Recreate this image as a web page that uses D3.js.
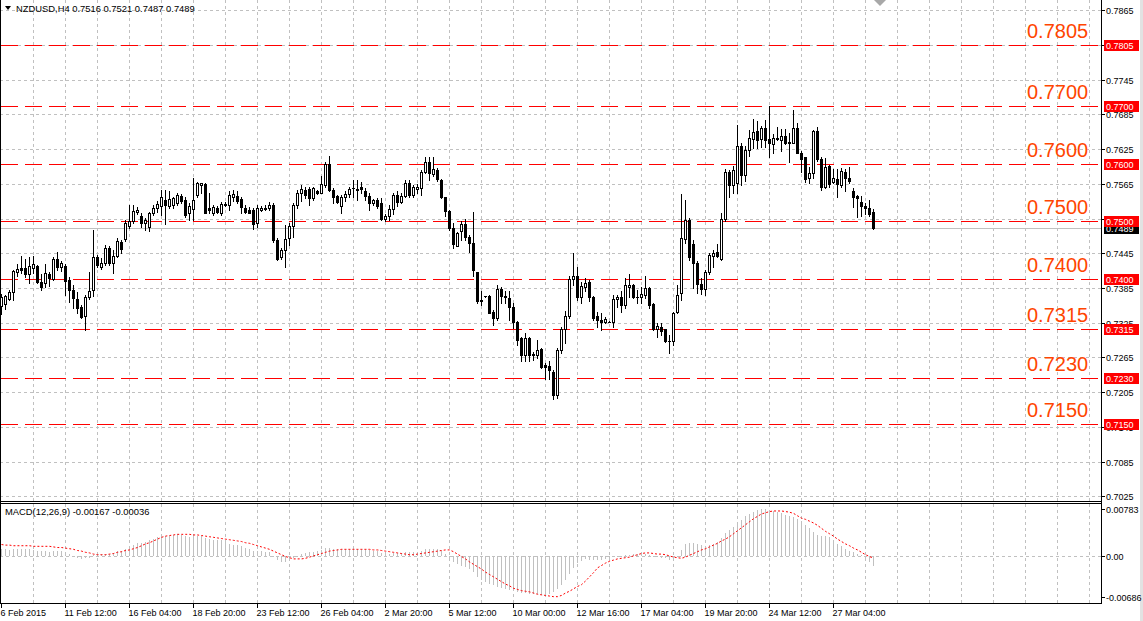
<!DOCTYPE html>
<html><head><meta charset="utf-8">
<script src="https://cdn.jsdelivr.net/npm/d3@7"></script>
<style>
body{margin:0;background:#fff}
svg{display:block}
text{font-family:"Liberation Sans",Arial,sans-serif}
</style>
</head><body>
<svg id="c" width="1143" height="621"></svg>
<script>
// ---------------- DATA ----------------
const symbolHeader = "NZDUSD,H4 0.7516 0.7521 0.7487 0.7489";
const macdHeader = "MACD(12,26,9) -0.00167 -0.00036";
const lastPrice = 0.7489;

const opens = [
0.7354,0.7358,0.7366,0.7378,0.7413,0.7419,0.7420,0.7409,0.7420,0.7423,
0.7395,0.7394,0.7409,0.7401,0.7435,0.7421,0.7423,0.7399,0.7382,0.7366,
0.7352,0.7337,0.7370,0.7382,0.7439,0.7422,0.7428,0.7454,0.7428,0.7440,
0.7465,0.7470,0.7492,0.7501,0.7517,0.7510,0.7497,0.7490,0.7515,0.7523,
0.7526,0.7537,0.7526,0.7528,0.7532,0.7544,0.7537,0.7514,0.7521,0.7546,
0.7563,0.7564,0.7523,0.7514,0.7523,0.7515,0.7529,0.7528,0.7543,0.7544,
0.7539,0.7523,0.7520,0.7520,0.7497,0.7520,0.7523,0.7523,0.7528,0.7468,
0.7438,0.7450,0.7471,0.7492,0.7528,0.7550,0.7554,0.7556,0.7540,0.7553,
0.7550,0.7563,0.7599,0.7554,0.7544,0.7526,0.7542,0.7548,0.7557,0.7556,
0.7560,0.7553,0.7544,0.7532,0.7537,0.7532,0.7504,0.7510,0.7521,0.7546,
0.7534,0.7544,0.7567,0.7546,0.7556,0.7558,0.7586,0.7602,0.7582,0.7589,
0.7572,0.7542,0.7518,0.7488,0.7458,0.7484,0.7496,0.7474,0.7462,0.7413,
0.7364,0.7371,0.7371,0.7344,0.7333,0.7383,0.7372,0.7367,0.7353,0.7327,
0.7298,0.7270,0.7298,0.7271,0.7270,0.7279,0.7252,0.7250,0.7240,0.7200,
0.7278,0.7314,0.7336,0.7400,0.7405,0.7369,0.7387,0.7396,0.7369,0.7337,
0.7330,0.7327,0.7327,0.7327,0.7366,0.7370,0.7356,0.7387,0.7390,0.7370,
0.7370,0.7373,0.7385,0.7357,0.7314,0.7318,0.7314,0.7294,0.7294,0.7344,
0.7376,0.7470,0.7503,0.7461,0.7429,0.7392,0.7383,0.7413,0.7441,0.7448,
0.7435,0.7505,0.7586,0.7563,0.7567,0.7630,0.7580,0.7624,0.7642,0.7657,
0.7642,0.7661,0.7642,0.7634,0.7643,0.7640,0.7648,0.7635,0.7636,0.7661,
0.7619,0.7611,0.7575,0.7583,0.7657,0.7608,0.7560,0.7596,0.7569,0.7573,
0.7563,0.7586,0.7576,0.7553,0.7544,0.7534,0.7527,0.7523,0.7516];

const highs = [
0.7375,0.7373,0.7381,0.7416,0.7427,0.7440,0.7435,0.7439,0.7440,0.7425,
0.7409,0.7427,0.7413,0.7439,0.7447,0.7431,0.7427,0.7404,0.7390,0.7378,
0.7356,0.7373,0.7413,0.7485,0.7442,0.7437,0.7459,0.7458,0.7451,0.7471,
0.7468,0.7503,0.7528,0.7528,0.7525,0.7515,0.7506,0.7517,0.7528,0.7535,
0.7554,0.7554,0.7552,0.7543,0.7550,0.7547,0.7543,0.7532,0.7575,0.7569,
0.7567,0.7566,0.7549,0.7528,0.7527,0.7534,0.7534,0.7552,0.7554,0.7552,
0.7543,0.7528,0.7525,0.7523,0.7528,0.7526,0.7528,0.7534,0.7532,0.7471,
0.7454,0.7494,0.7497,0.7532,0.7554,0.7563,0.7560,0.7560,0.7560,0.7554,
0.7578,0.7602,0.7613,0.7558,0.7546,0.7546,0.7552,0.7560,0.7572,0.7571,
0.7569,0.7558,0.7549,0.7539,0.7540,0.7540,0.7513,0.7528,0.7549,0.7552,
0.7549,0.7572,0.7571,0.7563,0.7565,0.7589,0.7611,0.7611,0.7611,0.7592,
0.7573,0.7543,0.7520,0.7497,0.7482,0.7500,0.7504,0.7477,0.7517,0.7413,
0.7379,0.7372,0.7373,0.7347,0.7390,0.7387,0.7379,0.7379,0.7359,0.7328,
0.7301,0.7307,0.7301,0.7274,0.7296,0.7281,0.7255,0.7258,0.7243,0.7281,
0.7318,0.7345,0.7405,0.7445,0.7422,0.7396,0.7402,0.7399,0.7371,0.7344,
0.7342,0.7335,0.7328,0.7373,0.7373,0.7379,0.7402,0.7410,0.7392,0.7382,
0.7387,0.7405,0.7387,0.7359,0.7324,0.7324,0.7315,0.7304,0.7344,0.7390,
0.7548,0.7537,0.7506,0.7468,0.7431,0.7402,0.7416,0.7445,0.7451,0.7461,
0.7514,0.7590,0.7589,0.7596,0.7667,0.7636,0.7630,0.7658,0.7677,0.7673,
0.7665,0.7675,0.7700,0.7652,0.7663,0.7659,0.7659,0.7653,0.7693,0.7670,
0.7621,0.7612,0.7595,0.7658,0.7663,0.7612,0.7609,0.7598,0.7590,0.7590,
0.7592,0.7590,0.7595,0.7557,0.7546,0.7544,0.7532,0.7537,0.7521];

const lows = [
0.7340,0.7349,0.7364,0.7364,0.7406,0.7411,0.7404,0.7394,0.7411,0.7394,
0.7382,0.7387,0.7389,0.7399,0.7416,0.7414,0.7373,0.7361,0.7350,0.7342,
0.7333,0.7313,0.7366,0.7371,0.7421,0.7417,0.7425,0.7425,0.7411,0.7439,
0.7446,0.7466,0.7489,0.7497,0.7513,0.7491,0.7485,0.7483,0.7511,0.7517,
0.7511,0.7496,0.7523,0.7523,0.7528,0.7532,0.7508,0.7503,0.7503,0.7543,
0.7549,0.7514,0.7514,0.7511,0.7514,0.7511,0.7526,0.7520,0.7535,0.7532,
0.7514,0.7514,0.7514,0.7487,0.7491,0.7518,0.7520,0.7520,0.7465,0.7433,
0.7436,0.7422,0.7459,0.7474,0.7523,0.7535,0.7540,0.7528,0.7537,0.7548,
0.7549,0.7560,0.7552,0.7532,0.7532,0.7514,0.7535,0.7543,0.7543,0.7537,
0.7549,0.7537,0.7520,0.7528,0.7523,0.7503,0.7501,0.7503,0.7513,0.7527,
0.7532,0.7542,0.7543,0.7542,0.7549,0.7546,0.7584,0.7572,0.7579,0.7570,
0.7540,0.7510,0.7485,0.7454,0.7457,0.7468,0.7468,0.7448,0.7406,0.7359,
0.7356,0.7370,0.7341,0.7321,0.7330,0.7359,0.7359,0.7330,0.7316,0.7287,
0.7258,0.7258,0.7258,0.7261,0.7264,0.7247,0.7227,0.7227,0.7193,0.7195,
0.7273,0.7290,0.7333,0.7390,0.7364,0.7359,0.7379,0.7362,0.7330,0.7318,
0.7313,0.7324,0.7326,0.7317,0.7352,0.7344,0.7350,0.7370,0.7367,0.7359,
0.7359,0.7367,0.7350,0.7313,0.7301,0.7304,0.7292,0.7273,0.7287,0.7342,
0.7364,0.7462,0.7433,0.7385,0.7376,0.7375,0.7373,0.7409,0.7422,0.7439,
0.7433,0.7501,0.7542,0.7549,0.7549,0.7563,0.7570,0.7614,0.7627,0.7627,
0.7628,0.7629,0.7612,0.7618,0.7641,0.7621,0.7634,0.7602,0.7635,0.7618,
0.7586,0.7569,0.7566,0.7575,0.7605,0.7554,0.7558,0.7560,0.7567,0.7542,
0.7560,0.7553,0.7567,0.7525,0.7508,0.7510,0.7513,0.7510,0.7487];

const closes = [
0.7370,0.7371,0.7378,0.7414,0.7418,0.7416,0.7410,0.7423,0.7427,0.7395,
0.7387,0.7411,0.7402,0.7436,0.7422,0.7428,0.7397,0.7382,0.7368,0.7350,
0.7335,0.7370,0.7380,0.7439,0.7424,0.7428,0.7454,0.7428,0.7440,0.7466,
0.7452,0.7497,0.7501,0.7518,0.7519,0.7498,0.7503,0.7515,0.7523,0.7530,
0.7543,0.7528,0.7539,0.7540,0.7546,0.7535,0.7511,0.7526,0.7537,0.7566,
0.7566,0.7515,0.7520,0.7525,0.7517,0.7530,0.7530,0.7545,0.7548,0.7536,
0.7525,0.7517,0.7515,0.7496,0.7523,0.7523,0.7521,0.7528,0.7468,0.7436,
0.7451,0.7469,0.7492,0.7528,0.7550,0.7556,0.7546,0.7540,0.7557,0.7549,
0.7565,0.7599,0.7554,0.7542,0.7533,0.7542,0.7548,0.7556,0.7558,0.7555,
0.7556,0.7544,0.7532,0.7537,0.7526,0.7504,0.7510,0.7521,0.7546,0.7534,
0.7544,0.7567,0.7546,0.7560,0.7560,0.7586,0.7602,0.7584,0.7590,0.7573,
0.7542,0.7518,0.7488,0.7461,0.7480,0.7496,0.7473,0.7462,0.7416,0.7363,
0.7363,0.7371,0.7342,0.7333,0.7383,0.7371,0.7369,0.7353,0.7327,0.7295,
0.7270,0.7298,0.7269,0.7270,0.7277,0.7248,0.7248,0.7243,0.7200,0.7278,
0.7315,0.7336,0.7400,0.7405,0.7370,0.7389,0.7394,0.7369,0.7333,0.7329,
0.7327,0.7332,0.7327,0.7366,0.7370,0.7356,0.7390,0.7390,0.7370,0.7370,
0.7375,0.7385,0.7356,0.7314,0.7319,0.7311,0.7294,0.7293,0.7341,0.7373,
0.7471,0.7503,0.7439,0.7429,0.7392,0.7383,0.7413,0.7442,0.7445,0.7441,
0.7505,0.7586,0.7563,0.7589,0.7630,0.7580,0.7624,0.7644,0.7655,0.7640,
0.7661,0.7640,0.7635,0.7644,0.7644,0.7648,0.7636,0.7638,0.7661,0.7619,
0.7608,0.7573,0.7583,0.7657,0.7608,0.7560,0.7595,0.7565,0.7575,0.7565,
0.7588,0.7576,0.7570,0.7542,0.7540,0.7527,0.7523,0.7513,0.7489];

const macdMain = [
0.0011,0.0011,0.0010,0.0011,0.0012,0.0012,0.0011,0.0011,0.0010,0.0009,
0.0008,0.0008,0.0007,0.0008,0.0008,0.0008,0.0006,0.0003,0.0000,-0.0003,
-0.0005,-0.0004,-0.0003,0.0001,0.0003,0.0003,0.0004,0.0004,0.0005,0.0008,
0.0008,0.0012,0.0015,0.0018,0.0021,0.0022,0.0024,0.0027,0.0029,0.0031,
0.0034,0.0033,0.0034,0.0035,0.0036,0.0035,0.0033,0.0032,0.0033,0.0034,
0.0034,0.0030,0.0028,0.0027,0.0026,0.0026,0.0026,0.0020,0.0019,0.0018,
0.0016,0.0014,0.0012,0.0009,0.0009,0.0008,0.0007,0.0007,0.0000,-0.0007,
-0.0010,-0.0010,-0.0008,-0.0004,0.0000,0.0003,0.0005,0.0006,0.0007,0.0008,
0.0010,0.0014,0.0013,0.0012,0.0011,0.0011,0.0011,0.0012,0.0012,0.0012,
0.0012,0.0011,0.0010,0.0009,0.0008,0.0005,0.0004,0.0004,0.0005,0.0005,
0.0005,0.0007,0.0006,0.0007,0.0007,0.0009,0.0011,0.0011,0.0012,0.0011,
0.0008,0.0004,-0.0004,-0.0010,-0.0014,-0.0016,-0.0019,-0.0022,-0.0027,-0.0035,
-0.0040,-0.0043,-0.0046,-0.0049,-0.0051,-0.0053,-0.0055,-0.0057,-0.0059,-0.0060,
-0.0062,-0.0062,-0.0063,-0.0063,-0.0064,-0.0065,-0.0065,-0.0064,-0.0060,-0.0055,
-0.0048,-0.0040,-0.0030,-0.0020,-0.0012,-0.0008,-0.0005,-0.0006,-0.0006,-0.0006,
-0.0006,-0.0005,-0.0004,-0.0002,-0.0001,0.0000,0.0002,0.0002,0.0003,0.0004,
0.0005,0.0004,0.0002,-0.0001,-0.0002,-0.0003,-0.0004,-0.0006,-0.0004,0.0000,
0.0010,0.0020,0.0022,0.0022,0.0020,0.0018,0.0017,0.0018,0.0020,0.0024,
0.0030,0.0038,0.0043,0.0048,0.0055,0.0060,0.0066,0.0070,0.0074,0.0076,
0.0078,0.0078,0.0077,0.0075,0.0073,0.0072,0.0069,0.0066,0.0065,0.0062,
0.0058,0.0052,0.0047,0.0040,0.0035,0.0034,0.0033,0.0031,0.0026,0.0020,
0.0016,0.0012,0.0009,0.0006,0.0004,0.0001,-0.0004,-0.0010,-0.0017];

const macdSignal = [
0.0019,0.0018,0.0018,0.0017,0.0017,0.0017,0.0017,0.0017,0.0016,0.0016,
0.0016,0.0016,0.0016,0.0015,0.0014,0.0014,0.0013,0.0012,0.0011,0.0009,
0.0008,0.0006,0.0005,0.0003,0.0002,0.0002,0.0002,0.0003,0.0004,0.0006,
0.0007,0.0009,0.0010,0.0012,0.0014,0.0017,0.0020,0.0022,0.0025,0.0028,
0.0031,0.0033,0.0034,0.0035,0.0036,0.0036,0.0036,0.0036,0.0035,0.0035,
0.0034,0.0033,0.0032,0.0031,0.0030,0.0029,0.0028,0.0027,0.0026,0.0025,
0.0024,0.0022,0.0021,0.0019,0.0017,0.0015,0.0013,0.0011,0.0008,0.0005,
0.0002,-0.0001,-0.0003,-0.0005,-0.0005,-0.0005,-0.0004,-0.0002,0.0000,0.0002,
0.0004,0.0006,0.0008,0.0009,0.0010,0.0011,0.0011,0.0011,0.0011,0.0011,
0.0011,0.0011,0.0011,0.0010,0.0010,0.0009,0.0008,0.0007,0.0006,0.0005,
0.0004,0.0003,0.0002,0.0002,0.0003,0.0004,0.0005,0.0006,0.0007,0.0008,
0.0009,0.0010,0.0010,0.0007,0.0003,-0.0001,-0.0005,-0.0010,-0.0014,-0.0018,
-0.0022,-0.0027,-0.0031,-0.0035,-0.0039,-0.0043,-0.0047,-0.0050,-0.0054,-0.0056,
-0.0058,-0.0059,-0.0060,-0.0062,-0.0064,-0.0065,-0.0066,-0.0067,-0.0068,-0.0068,
-0.0066,-0.0062,-0.0059,-0.0055,-0.0051,-0.0048,-0.0042,-0.0035,-0.0028,-0.0020,
-0.0016,-0.0012,-0.0009,-0.0007,-0.0005,-0.0004,-0.0003,-0.0002,0.0000,0.0002,
0.0004,0.0005,0.0005,0.0004,0.0003,0.0003,0.0002,0.0000,-0.0002,-0.0003,
-0.0004,-0.0002,0.0001,0.0004,0.0007,0.0010,0.0012,0.0015,0.0018,0.0021,
0.0025,0.0028,0.0032,0.0037,0.0042,0.0047,0.0052,0.0057,0.0062,0.0066,
0.0070,0.0072,0.0074,0.0075,0.0075,0.0075,0.0074,0.0073,0.0071,0.0067,
0.0063,0.0061,0.0058,0.0055,0.0051,0.0046,0.0041,0.0037,0.0033,0.0028,
0.0024,0.0020,0.0017,0.0013,0.0010,0.0006,0.0002,-0.0001,-0.0004];

const timeLabelIndex = [0,16,32,48,64,80,96,112,128,144,160,176,192,208];
const timeLabels = ["6 Feb 2015","11 Feb 12:00","16 Feb 04:00","18 Feb 20:00","23 Feb 12:00",
  "26 Feb 04:00","2 Mar 20:00","5 Mar 12:00","10 Mar 00:00","12 Mar 16:00","17 Mar 04:00",
  "19 Mar 20:00","24 Mar 12:00","27 Mar 04:00"];

const priceTicks = [0.7865,0.7805,0.7745,0.7685,0.7625,0.7565,0.7505,0.7445,0.7385,0.7325,0.7265,0.7205,0.7145,0.7085,0.7025];
const levels = [0.7805,0.7700,0.7600,0.7500,0.7400,0.7315,0.7230,0.7150];
const macdTicks = [0.00783,0,-0.00686];
const macdTickLabels = ["0.00783","0.00","-0.00686"];

// ---------------- LAYOUT ----------------
const AXIS_X = 1101;
const MAIN_BOTTOM = 501, MACD_TOP = 503, MACD_BOTTOM = 603;
const N = Math.min(opens.length, highs.length, lows.length, closes.length);

const x = d3.scaleLinear().domain([0, 218]).range([1.5, 873.5]);
const y = d3.scaleLinear().domain([0.7025, 0.7865]).range([496.3, 10.3]);
const ym = d3.scaleLinear().domain([-0.00686, 0.00783]).range([597, 509]);

const svg = d3.select("#c");
svg.append("rect").attr("width",1143).attr("height",621).attr("fill","#fff");
const crisp = svg.append("g").attr("shape-rendering","crispEdges");
const pix = v => Math.round(v) + 0.5;

const GRID = "#C0C0C0";
crisp.append("g").selectAll("line").data(priceTicks).join("line")
  .attr("x1",0).attr("x2",AXIS_X).attr("y1",d=>pix(y(d))).attr("y2",d=>pix(y(d)))
  .attr("stroke",GRID).attr("stroke-dasharray","3,3");
const vIdx = d3.range(8, 280, 8).filter(i => x(i) < AXIS_X - 2);
crisp.append("g").selectAll("line").data(vIdx).join("line")
  .attr("x1",d=>x(d)).attr("x2",d=>x(d)).attr("y1",0).attr("y2",MAIN_BOTTOM)
  .attr("stroke",GRID).attr("stroke-dasharray","3,3");
crisp.append("g").selectAll("line").data(vIdx).join("line")
  .attr("x1",d=>x(d)).attr("x2",d=>x(d)).attr("y1",MACD_TOP+1).attr("y2",MACD_BOTTOM)
  .attr("stroke",GRID).attr("stroke-dasharray","3,3");
crisp.append("line").attr("x1",0).attr("x2",AXIS_X)
  .attr("y1",pix(ym(0))).attr("y2",pix(ym(0))).attr("stroke",GRID).attr("stroke-dasharray","3,3");

crisp.append("g").selectAll("line").data(levels).join("line")
  .attr("x1",1).attr("x2",AXIS_X).attr("y1",d=>pix(y(d))).attr("y2",d=>pix(y(d)))
  .attr("stroke","#FF0000").attr("stroke-dasharray","17,7");

crisp.append("line").attr("x1",0).attr("x2",AXIS_X)
  .attr("y1",pix(y(lastPrice))).attr("y2",pix(y(lastPrice))).attr("stroke","#C0C0C0");

const cg = crisp.append("g");
for (let i = 0; i < N; i++) {
  const o = opens[i], h = highs[i], l = lows[i], c = closes[i];
  const xc = x(i);
  const yh = Math.round(y(h)), yl = Math.round(y(l));
  cg.append("line").attr("x1",xc).attr("x2",xc).attr("y1",yh).attr("y2",yl+1).attr("stroke","#000");
  const top = Math.round(y(Math.max(o,c))), bot = Math.round(y(Math.min(o,c)));
  if (bot - top < 1) {
    cg.append("line").attr("x1",xc-1.5).attr("x2",xc+1.5).attr("y1",top+0.5).attr("y2",top+0.5).attr("stroke","#000");
  } else {
    cg.append("rect").attr("x",xc-1).attr("y",top+0.5).attr("width",2).attr("height",bot-top)
      .attr("fill", c >= o ? "#fff" : "#000").attr("stroke","#000");
  }
}

crisp.append("g").selectAll("rect").data(macdMain).join("rect")
  .attr("x",(d,i)=>x(i)-0.5).attr("width",1)
  .attr("y",d=>Math.round(Math.min(ym(d), ym(0))))
  .attr("height",d=>Math.max(1, Math.round(Math.abs(ym(d)-ym(0)))))
  .attr("fill","#C0C0C0");
svg.append("path").datum(macdSignal)
  .attr("d", d3.line().x((d,i)=>x(i)).y(d=>ym(d)))
  .attr("fill","none").attr("stroke","#FF0000").attr("stroke-width",1).attr("stroke-dasharray","2,2");

const fr = crisp.append("g").attr("stroke","#000");
fr.append("line").attr("x1",0.5).attr("x2",0.5).attr("y1",0).attr("y2",MACD_BOTTOM+1);
fr.append("line").attr("x1",AXIS_X+0.5).attr("x2",AXIS_X+0.5).attr("y1",0).attr("y2",MACD_BOTTOM+1);
fr.append("line").attr("x1",0).attr("x2",AXIS_X+1).attr("y1",MAIN_BOTTOM+0.5).attr("y2",MAIN_BOTTOM+0.5);
fr.append("line").attr("x1",0).attr("x2",AXIS_X+1).attr("y1",MACD_TOP+0.5).attr("y2",MACD_TOP+0.5);
fr.append("line").attr("x1",0).attr("x2",AXIS_X+1).attr("y1",MACD_BOTTOM+0.5).attr("y2",MACD_BOTTOM+0.5);

svg.append("rect").attr("x",1140).attr("y",0).attr("width",3).attr("height",621).attr("fill","#E2E2E2");
svg.append("path").attr("d","M874,0 L886,0 L880,6 Z").attr("fill","#A8A8A8");

// price axis: tick marks for all, text for those not fully hidden by a level label
crisp.append("g").selectAll("line").data(priceTicks).join("line")
  .attr("x1",AXIS_X+1).attr("x2",AXIS_X+4).attr("y1",d=>pix(y(d))).attr("y2",d=>pix(y(d))).attr("stroke","#000");
const visibleTicks = priceTicks.filter(t => !levels.some(l => Math.abs(l - t) < 1e-9));
svg.append("g").selectAll("text").data(visibleTicks).join("text")
  .attr("x",1106).attr("y",d=>Math.round(y(d))+3.5).attr("font-size","9px").attr("fill","#000")
  .text(d=>d.toFixed(4));
crisp.append("g").selectAll("line").data(macdTicks).join("line")
  .attr("x1",AXIS_X+1).attr("x2",AXIS_X+4).attr("y1",d=>pix(ym(d))).attr("y2",d=>pix(ym(d))).attr("stroke","#000");
svg.append("g").selectAll("text").data(macdTicks).join("text")
  .attr("x",1106).attr("y",d=>Math.round(ym(d))+3.5).attr("font-size","9px").attr("fill","#000")
  .text((d,i)=>macdTickLabels[i]);

crisp.append("g").selectAll("line").data(timeLabelIndex).join("line")
  .attr("x1",d=>x(d)).attr("x2",d=>x(d)).attr("y1",MACD_BOTTOM+1).attr("y2",MACD_BOTTOM+5).attr("stroke","#000");
svg.append("g").selectAll("text").data(timeLabelIndex).join("text")
  .attr("x",d=>Math.max(0, x(d)-1)).attr("y",616).attr("font-size","9px").attr("fill","#000")
  .text((d,i)=>timeLabels[i]);

const lp = Math.round(y(lastPrice));
svg.append("rect").attr("x",1104).attr("y",lp-5).attr("width",35).attr("height",11).attr("fill","#000");
svg.append("text").attr("x",1106).attr("y",lp+4).attr("font-size","9px").attr("fill","#fff").text(lastPrice.toFixed(4));

const lg = svg.append("g");
levels.forEach(v => {
  const ly = Math.round(y(v));
  lg.append("rect").attr("x",1104).attr("y",ly-5).attr("width",35).attr("height",11).attr("fill","#FF0000");
  lg.append("text").attr("x",1106).attr("y",ly+4).attr("font-size","9px").attr("fill","#fff").text(v.toFixed(4));
});
svg.append("g").selectAll("text").data(levels).join("text")
  .attr("x",1027).attr("y",d=>Math.round(y(d))-7).attr("font-size","20px").attr("fill","#FF4500")
  .text(d=>d.toFixed(4));

svg.append("path").attr("d","M5,6 L11,6 L8,10 Z").attr("fill","#000");
svg.append("text").attr("x",16).attr("y",12).attr("font-size","9.4px").attr("fill","#000").text(symbolHeader);
svg.append("text").attr("x",5).attr("y",515).attr("font-size","9.4px").attr("fill","#000").text(macdHeader);
</script>
</body></html>
